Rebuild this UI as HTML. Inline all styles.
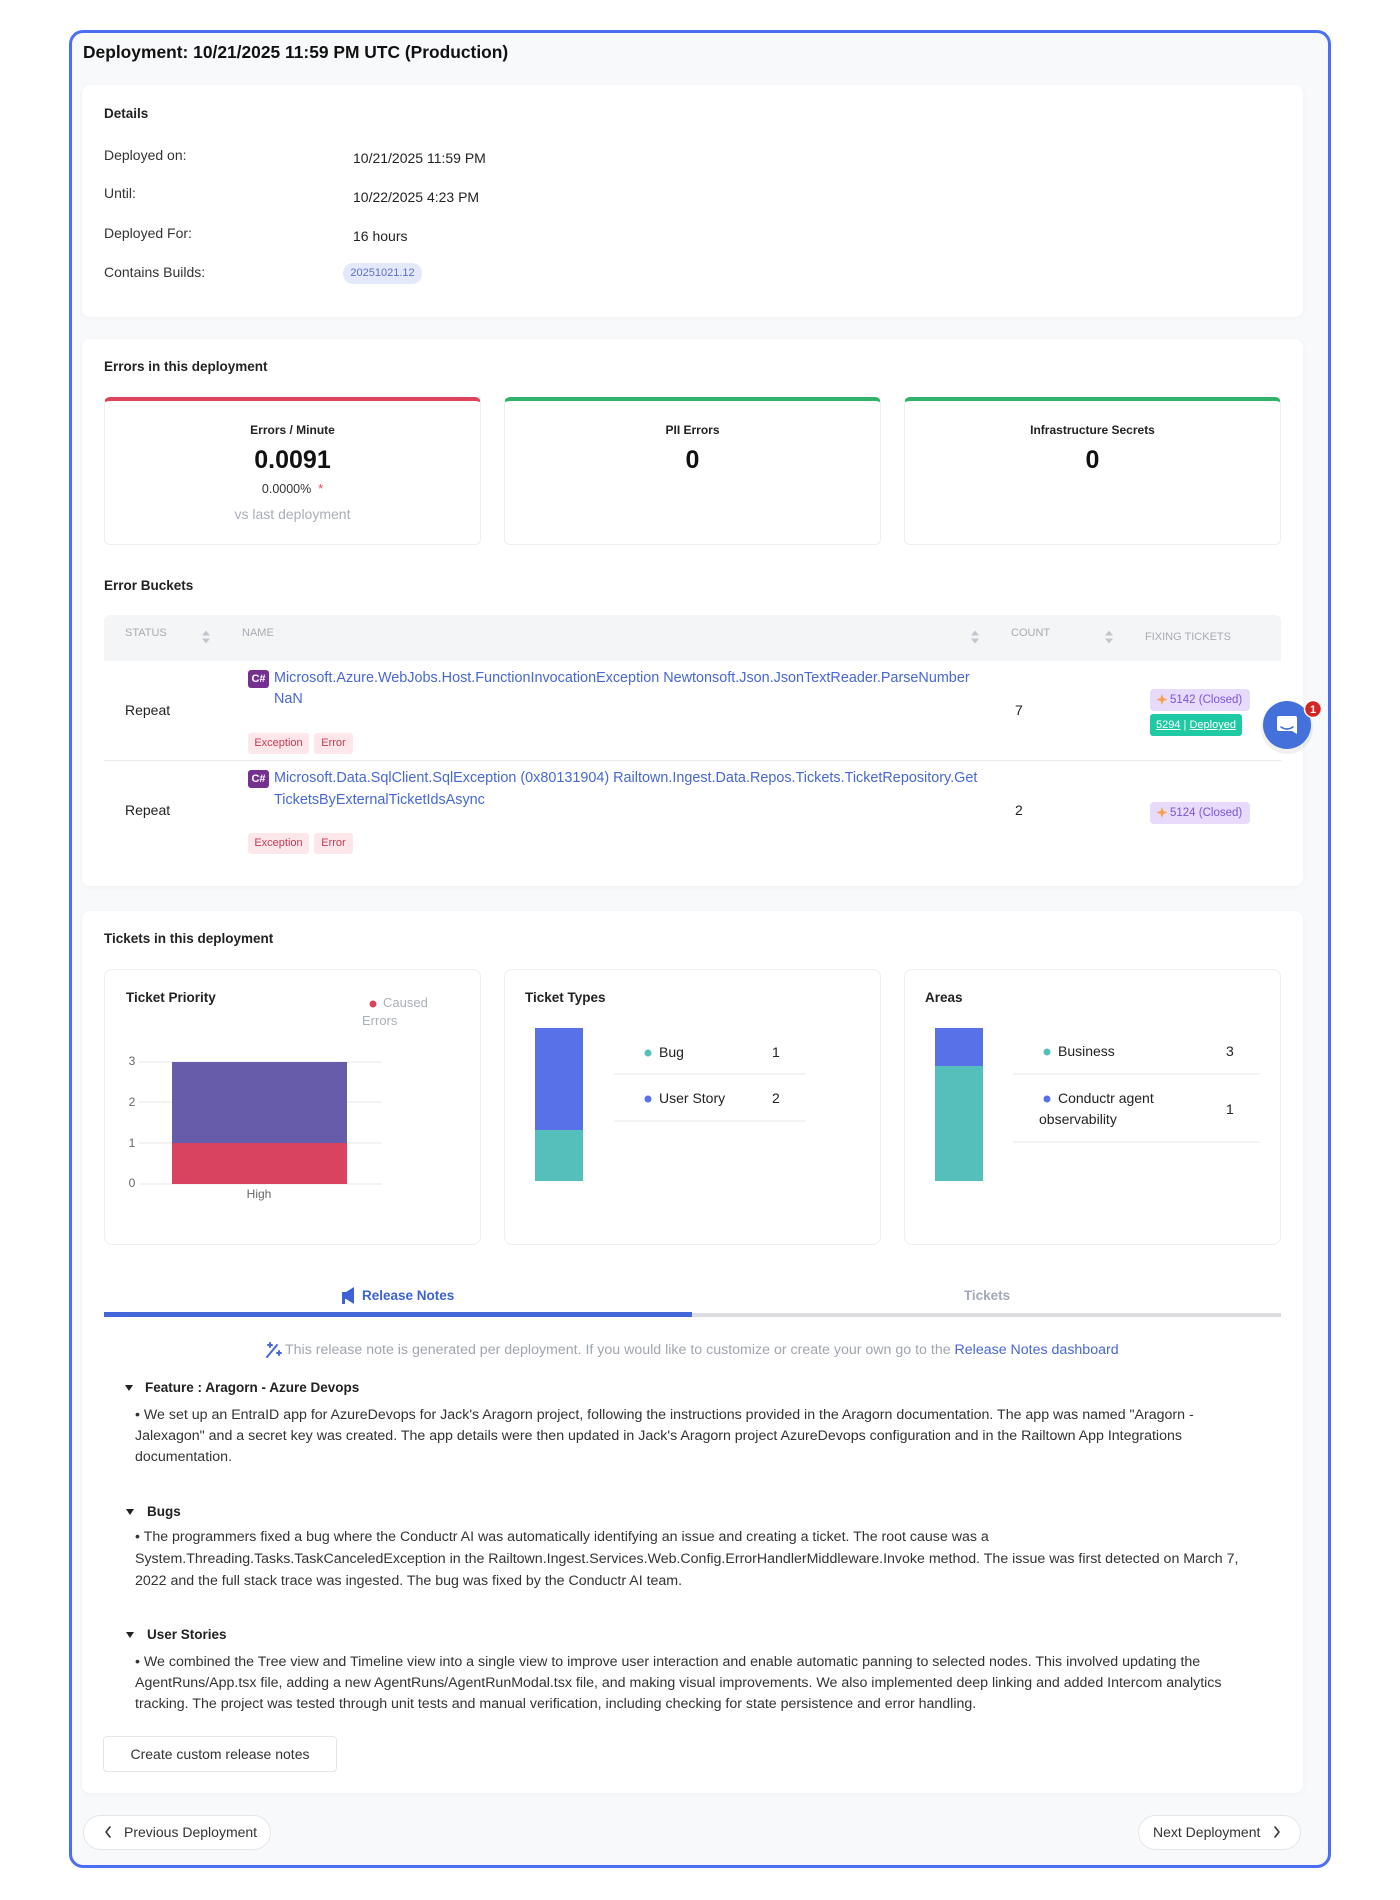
<!DOCTYPE html>
<html><head><meta charset="utf-8">
<style>
*{box-sizing:border-box;margin:0;padding:0}
body{width:1400px;height:1900px;position:relative;overflow:hidden;background:#fff;font-family:"Liberation Sans",sans-serif;color:#222}
.a{position:absolute;white-space:nowrap;line-height:20px}
.card{position:absolute;background:#fff;border-radius:8px;box-shadow:0 1px 6px rgba(0,0,0,0.04)}
.b{font-weight:bold}
.lbl{font-size:14px;color:#333}
.val{font-size:14px;color:#222}
.mc{position:absolute;top:397px;width:377px;height:148px;background:#fff;border:1px solid #eceef1;border-top:4px solid #2fb36a;border-radius:6px}
.ctr{text-align:center}
.th{font-size:11px;color:#a7abb2;text-transform:uppercase}
.lnk{font-size:14.4px;color:#4767d4}
.tag{position:absolute;height:21px;line-height:21px;font-size:11px;color:#c23a55;background:#fde7ea;border-radius:3px;text-align:center}
.cs{position:absolute;width:21px;height:18px;background:#74318f;border-radius:3px;color:#fff;font-size:11px;font-weight:bold;line-height:18px;text-align:center}
.pp{position:absolute;height:22px;line-height:22px;font-size:11.5px;color:#7d55d6;background:#e7dafb;border-radius:4px;padding-left:20px}
.cc{position:absolute;top:969px;width:377px;height:276px;background:#fff;border:1px solid #eceef1;border-radius:8px}
.p{font-size:14.2px;color:#333;left:135px}
.h{font-size:13.5px;font-weight:bold;color:#222}
.btn{position:absolute;background:#fff;border:1px solid #e4e6ea}
</style></head>
<body>
<div class="a" style="left:69px;top:30px;width:1262px;height:1838px;border:3px solid #4c6ef5;border-radius:14px;background:#f8f9fb"></div>

<div class="a b" style="left:83px;top:41px;line-height:22px;font-size:17.4px;color:#111">Deployment: 10/21/2025 11:59 PM UTC (Production)</div>

<!-- Details card -->
<div class="card" style="left:82px;top:85px;width:1221px;height:232px"></div>
<div class="a h" style="left:104px;top:104px">Details</div>
<div class="a lbl" style="left:104px;top:145px">Deployed on:</div>
<div class="a lbl" style="left:104px;top:183px">Until:</div>
<div class="a lbl" style="left:104px;top:223px">Deployed For:</div>
<div class="a lbl" style="left:104px;top:262px">Contains Builds:</div>
<div class="a val" style="left:353px;top:148px">10/21/2025 11:59 PM</div>
<div class="a val" style="left:353px;top:187px">10/22/2025 4:23 PM</div>
<div class="a val" style="left:353px;top:226px">16 hours</div>
<div class="a" style="left:343px;top:263px;width:79px;height:21px;line-height:21px;border-radius:10px;background:#e3e9fb;color:#5b6fc8;font-size:11px;text-align:center">20251021.12</div>

<!-- Errors card -->
<div class="card" style="left:82px;top:339px;width:1221px;height:547px"></div>
<div class="a h" style="left:104px;top:357px">Errors in this deployment</div>
<div class="mc" style="left:104px;border-top-color:#e0435c"></div>
<div class="mc" style="left:504px"></div>
<div class="mc" style="left:904px"></div>
<div class="a b ctr" style="left:104px;width:377px;top:420px;font-size:12px">Errors / Minute</div>
<div class="a b ctr" style="left:104px;width:377px;top:446px;line-height:28px;font-size:25px;color:#111">0.0091</div>
<div class="a ctr" style="left:104px;width:377px;top:479px;font-size:12.5px;color:#333">0.0000% <span style="color:#e0435c">&nbsp;*</span></div>
<div class="a ctr" style="left:104px;width:377px;top:504px;font-size:14px;color:#a9aeb6">vs last deployment</div>
<div class="a b ctr" style="left:504px;width:377px;top:420px;font-size:12px">PII Errors</div>
<div class="a b ctr" style="left:504px;width:377px;top:446px;line-height:28px;font-size:25px;color:#111">0</div>
<div class="a b ctr" style="left:904px;width:377px;top:420px;font-size:12px">Infrastructure Secrets</div>
<div class="a b ctr" style="left:904px;width:377px;top:446px;line-height:28px;font-size:25px;color:#111">0</div>

<div class="a h" style="left:104px;top:576px">Error Buckets</div>
<div class="a" style="left:104px;top:615px;width:1177px;height:46px;background:#f4f5f7;border-radius:6px 6px 0 0"></div>
<div class="a th" style="left:125px;top:623px">Status</div>
<div class="a th" style="left:242px;top:623px">Name</div>
<div class="a th" style="left:1011px;top:623px">Count</div>
<div class="a th" style="left:1145px;top:627px">Fixing Tickets</div>
<div class="a" style="left:104px;top:760px;width:1177px;height:1px;background:#e8e9ec"></div>

<!-- row 1 -->
<div class="a val" style="left:125px;top:700px">Repeat</div>
<div class="cs" style="left:248px;top:670px">C#</div>
<div class="a lnk" style="left:274px;top:668px">Microsoft.Azure.WebJobs.Host.FunctionInvocationException Newtonsoft.Json.JsonTextReader.ParseNumber</div>
<div class="a lnk" style="left:274px;top:689px">NaN</div>
<div class="tag" style="left:248px;top:733px;width:61px">Exception</div>
<div class="tag" style="left:314px;top:733px;width:39px">Error</div>
<div class="a val" style="left:1015px;top:700px">7</div>
<div class="pp" style="left:1150px;top:689px;width:100px">5142 (Closed)</div>
<div class="a" style="left:1150px;top:714px;width:92px;height:22px;line-height:22px;background:#1fc9a3;color:#fff;font-size:11px;border-radius:3px;text-align:center"><u>5294</u> | <u>Deployed</u></div>

<!-- row 2 -->
<div class="a val" style="left:125px;top:800px">Repeat</div>
<div class="cs" style="left:248px;top:770px">C#</div>
<div class="a lnk" style="left:274px;top:768px">Microsoft.Data.SqlClient.SqlException (0x80131904) Railtown.Ingest.Data.Repos.Tickets.TicketRepository.Get</div>
<div class="a lnk" style="left:274px;top:790px">TicketsByExternalTicketIdsAsync</div>
<div class="tag" style="left:248px;top:833px;width:61px">Exception</div>
<div class="tag" style="left:314px;top:833px;width:39px">Error</div>
<div class="a val" style="left:1015px;top:800px">2</div>
<div class="pp" style="left:1150px;top:802px;width:100px">5124 (Closed)</div>

<!-- Tickets card -->
<div class="card" style="left:82px;top:911px;width:1221px;height:882px"></div>
<div class="a h" style="left:104px;top:929px">Tickets in this deployment</div>
<div class="cc" style="left:104px"></div>
<div class="cc" style="left:504px"></div>
<div class="cc" style="left:904px"></div>
<div class="a h" style="left:126px;top:988px">Ticket Priority</div>
<div class="a" style="left:383px;top:993px;font-size:13px;color:#aab0b9">Caused</div>
<div class="a" style="left:362px;top:1011px;font-size:13px;color:#aab0b9">Errors</div>
<div class="a h" style="left:525px;top:988px">Ticket Types</div>
<div class="a h" style="left:925px;top:988px">Areas</div>

<div class="a val" style="left:659px;top:1042px">Bug</div>
<div class="a val" style="left:772px;top:1042px">1</div>
<div class="a val" style="left:659px;top:1088px">User Story</div>
<div class="a val" style="left:772px;top:1088px">2</div>
<div class="a val" style="left:1058px;top:1041px">Business</div>
<div class="a val" style="left:1226px;top:1041px">3</div>
<div class="a val" style="left:1058px;top:1088px">Conductr agent</div>
<div class="a val" style="left:1039px;top:1109px">observability</div>
<div class="a val" style="left:1226px;top:1099px">1</div>

<!-- tabs -->
<div class="a b" style="left:362px;top:1286px;font-size:13.5px;color:#3d62d8">Release Notes</div>
<div class="a b ctr" style="left:887px;width:200px;top:1286px;font-size:13.5px;color:#a3abb9">Tickets</div>
<div class="a" style="left:104px;top:1313px;width:1177px;height:4px;background:#dcdde0"></div>
<div class="a" style="left:104px;top:1312px;width:588px;height:5px;background:#4466dd"></div>
<div class="a" style="left:285px;top:1340px;font-size:14.2px;color:#a0a5ae">This release note is generated per deployment. If you would like to customize or create your own go to the <span style="color:#4767d4">Release Notes dashboard</span></div>

<div class="a h" style="left:145px;top:1378px">Feature : Aragorn - Azure Devops</div>
<div class="a p" style="top:1405px">• We set up an EntraID app for AzureDevops for Jack's Aragorn project, following the instructions provided in the Aragorn documentation. The app was named "Aragorn -</div>
<div class="a p" style="top:1426px">Jalexagon" and a secret key was created. The app details were then updated in Jack's Aragorn project AzureDevops configuration and in the Railtown App Integrations</div>
<div class="a p" style="top:1447px">documentation.</div>

<div class="a h" style="left:147px;top:1502px">Bugs</div>
<div class="a p" style="top:1527px">• The programmers fixed a bug where the Conductr AI was automatically identifying an issue and creating a ticket. The root cause was a</div>
<div class="a p" style="top:1549px">System.Threading.Tasks.TaskCanceledException in the Railtown.Ingest.Services.Web.Config.ErrorHandlerMiddleware.Invoke method. The issue was first detected on March 7,</div>
<div class="a p" style="top:1571px">2022 and the full stack trace was ingested. The bug was fixed by the Conductr AI team.</div>

<div class="a h" style="left:147px;top:1625px">User Stories</div>
<div class="a p" style="top:1652px">• We combined the Tree view and Timeline view into a single view to improve user interaction and enable automatic panning to selected nodes. This involved updating the</div>
<div class="a p" style="top:1673px">AgentRuns/App.tsx file, adding a new AgentRuns/AgentRunModal.tsx file, and making visual improvements. We also implemented deep linking and added Intercom analytics</div>
<div class="a p" style="top:1694px">tracking. The project was tested through unit tests and manual verification, including checking for state persistence and error handling.</div>

<div class="btn" style="left:103px;top:1736px;width:234px;height:36px;border-radius:4px"></div>
<div class="a ctr val" style="left:103px;width:234px;top:1744px;color:#333">Create custom release notes</div>

<div class="btn" style="left:83px;top:1815px;width:188px;height:35px;border-radius:18px"></div>
<div class="a val" style="left:124px;top:1822px;color:#333">Previous Deployment</div>
<div class="btn" style="left:1138px;top:1815px;width:163px;height:35px;border-radius:18px"></div>
<div class="a val" style="left:1153px;top:1822px;color:#333">Next Deployment</div>

<svg class="a" style="left:0;top:0" width="1400" height="1900" viewBox="0 0 1400 1900" font-family="Liberation Sans, sans-serif">
  <!-- sort icons -->
  <g fill="#c2c6cc">
    <path d="M202 635.5h8l-4-5z M202 638.5h8l-4 5z"/>
    <path d="M971 635.5h8l-4-5z M971 638.5h8l-4 5z"/>
    <path d="M1105 635.5h8l-4-5z M1105 638.5h8l-4 5z"/>
  </g>
  <!-- sparkles -->
  <g fill="#f5a34a">
    <path d="M1162 694 l1.5 4 l4 1.5 l-4 1.5 l-1.5 4 l-1.5 -4 l-4 -1.5 l4 -1.5z"/>
    <path d="M1162 807 l1.5 4 l4 1.5 l-4 1.5 l-1.5 4 l-1.5 -4 l-4 -1.5 l4 -1.5z"/>
  </g>
  <!-- chat bubble -->
  <circle cx="1287" cy="728" r="26" fill="#000" opacity="0.06"/>
  <circle cx="1287" cy="725" r="24" fill="#4470dc"/>
  <path d="M1279 716 h16 a2 2 0 0 1 2 2 v16 l-5 -3 h-13 a2 2 0 0 1 -2 -2 v-11 a2 2 0 0 1 2 -2z" fill="#fff"/>
  <path d="M1281 727 q6 4 12 0" stroke="#4470dc" stroke-width="1.6" fill="none" stroke-linecap="round"/>
  <circle cx="1313" cy="709" r="8.5" fill="#d42525" stroke="#fff" stroke-width="1.5"/>
  <text x="1313" y="713" font-size="11" font-weight="bold" fill="#fff" text-anchor="middle">1</text>

  <!-- priority chart -->
  <g stroke="#e6e7ea" stroke-width="1">
    <line x1="139" y1="1062" x2="382" y2="1062"/>
    <line x1="139" y1="1102" x2="382" y2="1102"/>
    <line x1="139" y1="1143" x2="382" y2="1143"/>
    <line x1="139" y1="1184" x2="382" y2="1184"/>
  </g>
  <rect x="172" y="1062" width="175" height="81" fill="#665ca9"/>
  <rect x="172" y="1143" width="175" height="41" fill="#d9435f"/>
  <g font-size="12" fill="#666" text-anchor="middle">
    <text x="132" y="1065">3</text>
    <text x="132" y="1106">2</text>
    <text x="132" y="1147">1</text>
    <text x="132" y="1187">0</text>
    <text x="259" y="1198">High</text>
  </g>
  <circle cx="373" cy="1004" r="3.5" fill="#d9435f"/>

  <!-- types chart -->
  <rect x="535" y="1028" width="48" height="102" fill="#5870e8"/>
  <rect x="535" y="1130" width="48" height="51" fill="#55bfbb"/>
  <circle cx="648" cy="1053" r="3.5" fill="#55bfbb"/>
  <circle cx="648" cy="1099" r="3.5" fill="#5870e8"/>
  <line x1="614" y1="1074" x2="806" y2="1074" stroke="#e6e7ea"/>
  <line x1="614" y1="1121" x2="806" y2="1121" stroke="#e6e7ea"/>

  <!-- areas chart -->
  <rect x="935" y="1028" width="48" height="38" fill="#5870e8"/>
  <rect x="935" y="1066" width="48" height="115" fill="#55bfbb"/>
  <circle cx="1047" cy="1052" r="3.5" fill="#55bfbb"/>
  <circle cx="1047" cy="1099" r="3.5" fill="#5870e8"/>
  <line x1="1013" y1="1074" x2="1260" y2="1074" stroke="#e6e7ea"/>
  <line x1="1013" y1="1142" x2="1260" y2="1142" stroke="#e6e7ea"/>

  <!-- megaphone -->
  <path d="M342 1292 h4 l8 -5 v17 l-8 -5 h-1 v5 h-3z" fill="#3d62d8"/>
  <!-- wand -->
  <g stroke="#4767d4" stroke-width="2" stroke-linecap="round">
    <line x1="267" y1="1357" x2="277" y2="1345"/>
    <line x1="270" y1="1343" x2="270" y2="1347"/>
    <line x1="268" y1="1345" x2="272" y2="1345"/>
    <line x1="279" y1="1351" x2="279" y2="1355"/>
    <line x1="277" y1="1353" x2="281" y2="1353"/>
  </g>
  <!-- triangles -->
  <g fill="#222">
    <path d="M125 1385 h8 l-4 6z"/>
    <path d="M126 1509 h8 l-4 6z"/>
    <path d="M126 1632 h8 l-4 6z"/>
  </g>
  <!-- chevrons -->
  <g stroke="#333" stroke-width="1.6" fill="none" stroke-linecap="round" stroke-linejoin="round">
    <path d="M110 1827 l-4 5 l4 5"/>
    <path d="M1275 1827 l4 5 l-4 5"/>
  </g>
</svg>
</body></html>
